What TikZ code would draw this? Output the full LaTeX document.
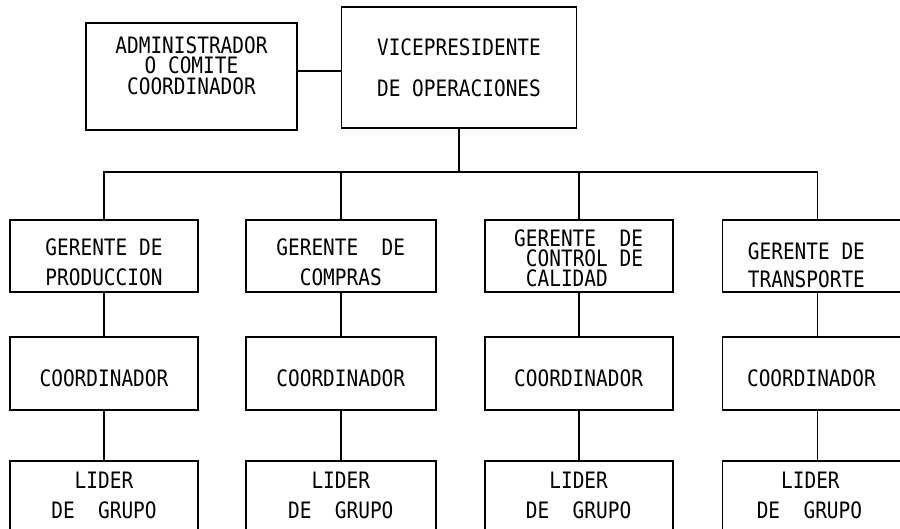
\documentclass[tikz,border=0pt]{standalone}
\usepackage{fontspec}
\newfontfamily\maq[FakeStretch=0.86]{DejaVu Sans Mono}
\usetikzlibrary{positioning}
\tikzset{
    %Define style for boxes
    caja/.style={
           rectangle,
           draw=black,
           inner sep=0pt,
           align=center,
           font={\maq\fontsize{22.6}{30}\selectfont}},
    gerente/.style={
           caja,
           minimum width=188pt,
           minimum height=72pt},
    coord/.style={
           caja,
           minimum width=188pt,
           minimum height=73pt,
           text height=26.5pt},
    lider/.style={
           caja,
           minimum width=188pt,
           minimum height=70pt},
    % Define line spacing
    junto/.style={font={\maq\fontsize{22.6}{20}\selectfont}},
    abierto/.style={font={\maq\fontsize{22.6}{41}\selectfont}}
}
\begin{document}
\begin{tikzpicture}[x=1pt,y=-1pt,line width=1.8pt,node distance=46pt]
\useasboundingbox (0,0) rectangle (900,529);
\clip (0,0) rectangle (900,529);
\node[caja, minimum width=211pt, minimum height=107pt, text depth=22pt,
  font={\maq\fontsize{22.6}{20.5}\selectfont}] (adm) at (191.5,76.5)
  {ADMINISTRADOR\\O COMITE\\COORDINADOR};
\node[caja, abierto, minimum width=235pt, minimum height=121pt] (vp) at (459,67.5)
  {VICEPRESIDENTE\\DE OPERACIONES};
\node[gerente, text height=58.5pt] (g1) at (104,256) {GERENTE DE\\PRODUCCION};
\node[gerente, minimum width=190pt, text height=58.5pt, right=46pt of g1] (g2) {GERENTE~~DE\\COMPRAS};
\node[gerente, junto, align=left, text height=62pt, right=47pt of g2] (g3)
  {GERENTE~~DE\\\phantom{C}CONTROL DE\\\phantom{C}CALIDAD};
% text of the last column sits left of the box middle
\node[gerente, minimum width=190pt, text height=62.5pt, font={\maq\fontsize{22.6}{28}\selectfont},
  right=48pt of g3] (g4) {GERENTE DE\hspace*{22pt}\\TRANSPORTE\hspace*{22pt}};
\node[coord, below=43pt of g1] (c1) {COORDINADOR};
\node[coord, minimum width=190pt, below=43pt of g2] (c2) {COORDINADOR};
\node[coord, below=43pt of g3] (c3) {COORDINADOR};
\node[coord, minimum width=190pt, below=43pt of g4] (c4) {COORDINADOR\hspace*{12pt}};
\node[lider, below=49pt of c1] (l1) {LIDER\\DE~~GRUPO};
\node[lider, minimum width=190pt, below=49pt of c2] (l2) {LIDER\\DE~~GRUPO};
\node[lider, below=49pt of c3] (l3) {LIDER\\DE~~GRUPO};
\node[lider, minimum width=190pt, below=49pt of c4] (l4) {LIDER\hspace*{14pt}\\DE~~GRUPO\hspace*{16pt}};
\coordinate (enlace) at (318,71);
\coordinate (bus) at (459,172);
\draw (adm.east |- enlace) -- (vp.west |- enlace);
\draw (vp.south) -- (bus);
\draw (g1.north) |- (bus) -| (g4.north);
\draw (g2.north) -- (g2.north |- bus);
\draw (g3.north) -- (g3.north |- bus);
\path (g1) edge (c1) (c1) edge (l1)
      (g2) edge (c2) (c2) edge (l2)
      (g3) edge (c3) (c3) edge (l3)
      (g4) edge (c4) (c4) edge (l4);
\end{tikzpicture}
\end{document}
